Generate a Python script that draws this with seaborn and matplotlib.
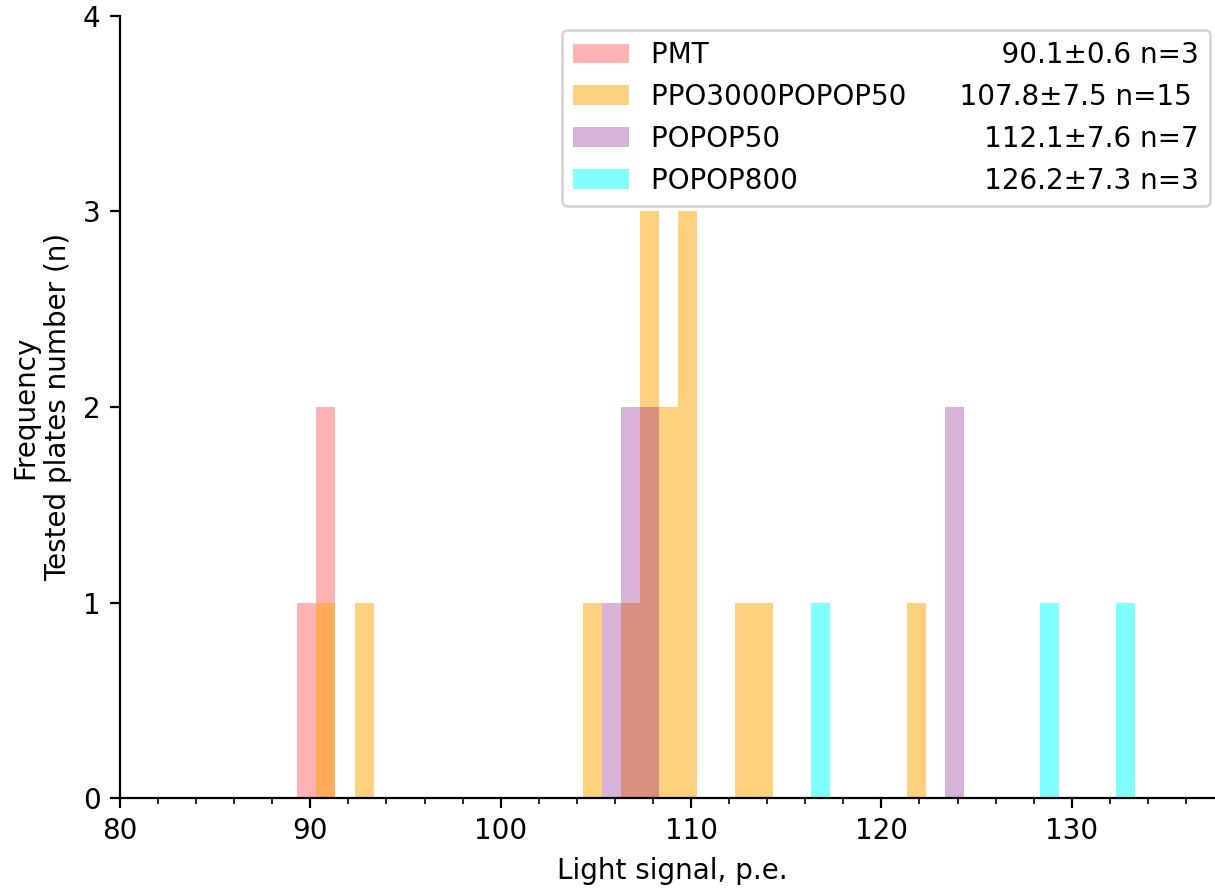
import numpy as np
import matplotlib
matplotlib.use("Agg")
import matplotlib.pyplot as plt
import seaborn as sns
from matplotlib.ticker import MultipleLocator, AutoMinorLocator
from matplotlib.font_manager import FontProperties
from matplotlib.patches import Patch

# ---- data (values estimated from the reference histogram) ----
series_names = ["PMT", "PPO3000POPOP50", "POPOP50", "POPOP800"]
pmt = [89.32, 90.45, 90.53]
ppo3000popop50 = [90.9, 92.8, 105.2, 106.9, 107.5, 107.9, 108.2, 108.6,
                  109.1, 109.5, 109.9, 110.2, 113.2, 114.2, 122.2]
popop50 = [106.1, 106.7, 107.1, 107.8, 108.1, 123.9, 124.2]
popop800 = [116.9, 129.0, 132.8]
series_values = [pmt, ppo3000popop50, popop50, popop800]
means = [90.1, 107.8, 112.1, 126.2]
stds = [0.6, 7.5, 7.6, 7.3]
colors = ["red", "orange", "purple", "cyan"]
alphas = [0.3, 0.5, 0.3, 0.5]

xlabel = "Light signal, p.e."
ylabel = "Frequency\nTested plates number (n)"

# ---- figure ----
DPI = 200
fig = plt.figure(figsize=(1215 / DPI, 888 / DPI), dpi=DPI)
ax = fig.add_axes([120 / 1215, 1 - 798 / 888, 1104 / 1215, 782 / 888])

gmin = min(min(v) for v in series_values)
nbins = 45
for vals, c, a, name in zip(series_values, colors, alphas, series_names):
    sns.histplot(x=vals, binwidth=1, binrange=(gmin, gmin + nbins),
                 color=c, alpha=a, linewidth=0, ax=ax, stat="count")

ax.set_xlim(80, 138)
ax.set_ylim(0, 4)
ax.xaxis.set_major_locator(MultipleLocator(10))
ax.xaxis.set_minor_locator(AutoMinorLocator(5))
ax.yaxis.set_major_locator(MultipleLocator(1))
ax.set_xlabel(xlabel, fontsize=10)
ax.set_ylabel(ylabel, fontsize=10)
ax.tick_params(labelsize=10)
sns.despine(ax=ax)

# ---- legend with right-aligned statistics ----
fig.canvas.draw()
renderer = fig.canvas.get_renderer()
fp = FontProperties(size=10)

def tw(s):
    w, h, d = renderer.get_text_width_height_descent(s, fp, ismath=False)
    return w

stat_txt = [f"{m:.1f}\u00b1{s:.1f} n={len(v)}" for m, s, v in zip(means, stds, series_values)]
target = 545.0 * DPI / 200
space_w = tw("a a") - tw("aa")
labels = []
for name, st in zip(series_names, stat_txt):
    k = max(1, int(round((target - tw(name) - tw(st)) / space_w)))
    labels.append(name + " " * k + st)

handles = [Patch(facecolor=c, alpha=a, edgecolor="none") for c, a in zip(colors, alphas)]
ax.legend(handles, labels, loc="upper right", fontsize=10)

fig.savefig("out.png", dpi=DPI)
